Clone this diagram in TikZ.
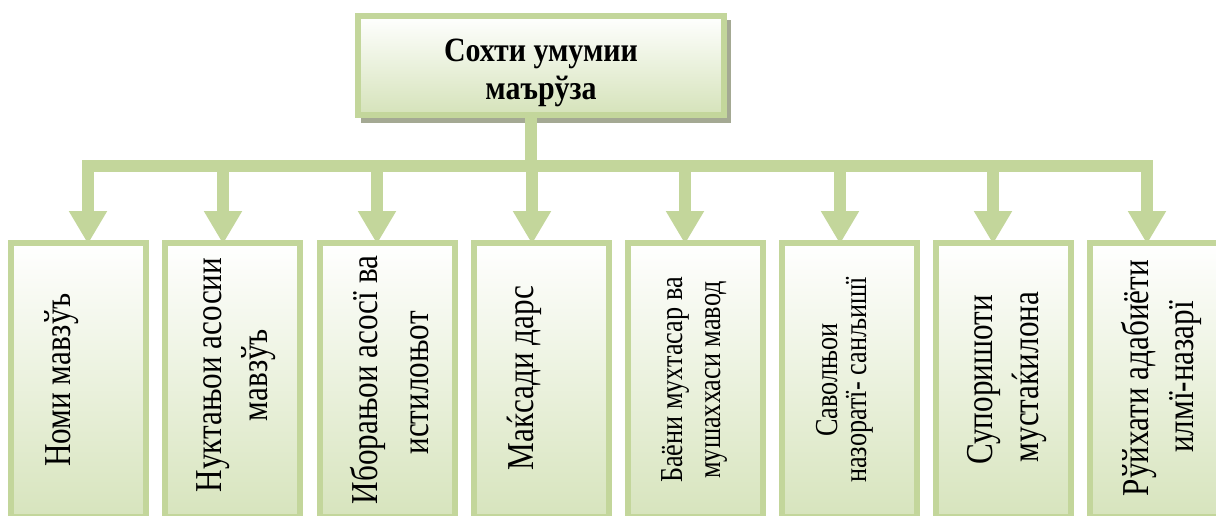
\documentclass[tikz,border=0pt]{standalone}
\usepackage{fontspec}
\setmainfont{Liberation Serif}
\newfontfamily\narrowfont{Liberation Serif}[FakeStretch=0.82]
\newfontfamily\topfont{Liberation Serif}[FakeStretch=0.88]
\usetikzlibrary{arrows.meta}
\definecolor{lg}{HTML}{C3D69B}
\definecolor{lgf}{HTML}{D7E4BD}
\definecolor{shd}{HTML}{A4A993}
\begin{document}
\begin{tikzpicture}[x=1pt,y=-1pt,
  lowbox/.style={draw=lg, line width=6pt, minimum width=135pt, minimum height=274pt,
     inner sep=0pt, outer sep=0pt, top color=white, bottom color=lgf},
  topbox/.style={draw=lg, line width=6pt, minimum width=366pt, minimum height=99pt,
     inner sep=0pt, outer sep=0pt, top color=white, bottom color=lgf!90!lg},
  conn/.style={draw=lg, line width=12pt, -{Triangle[length=33pt,width=36pt]}},
  lbl/.style={rotate=90, anchor=base, inner sep=0pt, font=\narrowfont\fontsize{38}{44}\selectfont},
  lbls/.style={rotate=90, anchor=base, inner sep=0pt, font=\narrowfont\fontsize{32}{38}\selectfont},
  toplbl/.style={anchor=base, inner sep=0pt, font=\topfont\bfseries\fontsize{34}{38}\selectfont}]
\useasboundingbox (0,0) rectangle (1216,516);
\clip (0,0) rectangle (1216,516);
% top box with shadow
\fill[shd] (361,20) rectangle (731,123);
\node[topbox] (top) at (541,65.5) {};
\node[toplbl] (topa) at (541,62) {Сохти умумии};
\node[toplbl] (topb) at (541,100) {маърўза};
% lower boxes
\node[lowbox] (b1) at (78.5,380) {};
\node[lowbox] (b2) at (232.5,380) {};
\node[lowbox] (b3) at (387,380) {};
\node[lowbox] (b4) at (541,380) {};
\node[lowbox] (b5) at (695,380) {};
\node[lowbox] (b6) at (849,380) {};
\node[lowbox] (b7) at (1003,380) {};
\node[lowbox] (b8) at (1157,380) {};
% connectors
\coordinate (hub) at (531,166);
\coordinate (src) at ([xshift=-10pt]top.south);
\draw[conn] (src) -- (hub) -| ([xshift=9.5pt,yshift=-1pt]b1.north);
\draw[conn] (src) -- (hub) -| ([xshift=-9.5pt,yshift=-1pt]b2.north);
\draw[conn] (src) -- (hub) -| ([xshift=-10pt,yshift=-1pt]b3.north);
\draw[conn] (src) -- (hub) -| ([xshift=-9pt,yshift=-1pt]b4.north);
\draw[conn] (src) -- (hub) -| ([xshift=-10pt,yshift=-1pt]b5.north);
\draw[conn] (src) -- (hub) -| ([xshift=-9pt,yshift=-1pt]b6.north);
\draw[conn] (src) -- (hub) -| ([xshift=-10pt,yshift=-1pt]b7.north);
\draw[conn] (src) -- (hub) -| ([xshift=-10pt,yshift=-1pt]b8.north);
% labels
\node[lbl] (t1) at (70,380) {Номи мавзўъ};
\node[lbl] (t2a) at (221,375) {Нуктањои асосии};
\node[lbl] (t2b) at (267,375) {мавзўъ};
\node[lbl] (t3a) at (377,380) {Иборањои асосї ва};
\node[lbl] (t3b) at (428,383) {истилоњот};
\node[lbl] (t4) at (533,378) {Маќсади дарс};
\node[lbls] (t5a) at (682,380) {Баёни мухтасар ва};
\node[lbls] (t5b) at (720,380) {мушаххаси мавод};
\node[lbls] (t6a) at (837,380) {Саволњои};
\node[lbls] (t6b) at (866,380) {назоратї- санљишї};
\node[lbl] (t7a) at (992,380) {Супоришоти};
\node[lbl] (t7b) at (1038,377) {мустаќилона};
\node[lbl] (t8a) at (1148,378) {Рўйхати адабиёти};
\node[lbl] (t8b) at (1193,377) {илмї-назарї};
\end{tikzpicture}
\end{document}
